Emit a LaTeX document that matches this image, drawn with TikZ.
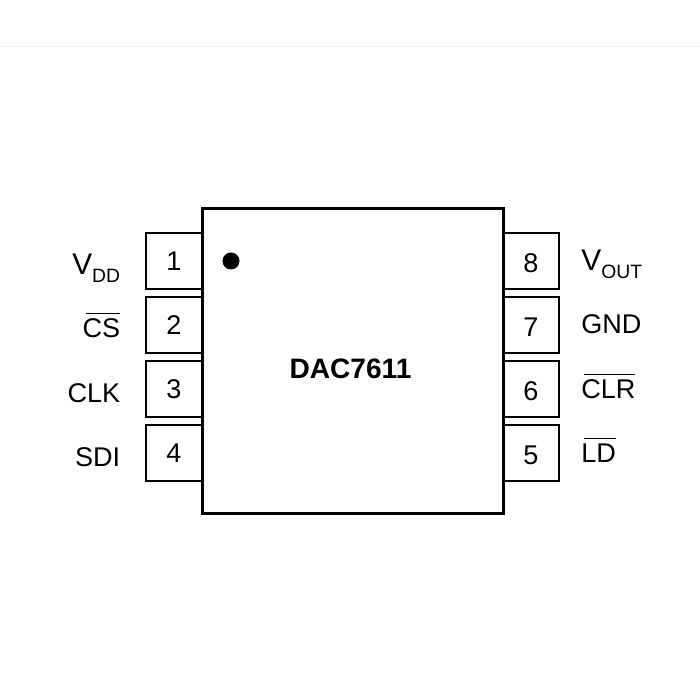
\documentclass[tikz,border=0pt]{standalone}
\usepackage{fontspec}
\setmainfont{Liberation Sans}
\usepackage{xcolor}
\usetikzlibrary{positioning}
\definecolor{rulegray}{HTML}{F0F0F0}
\newcommand{\pinvolt}[1]{{\fontsize{17pt}{18pt}\selectfont V}\raisebox{-0.16cm}{\fontsize{11pt}{12pt}\selectfont #1}}
\newcommand{\pinbar}[1]{\setbox0=\hbox{#1}\rlap{\hspace{1.7pt}\rule[13.6pt]{\dimexpr\wd0-1.7pt\relax}{0.8pt}}\box0}

\begin{document}
\begin{tikzpicture}[
    chip/.style={rectangle, draw, line width=0.06cm, minimum width=6.02cm, minimum height=6.1cm},
    pin/.style={rectangle, draw, line width=0.036cm, minimum width=1.12cm, minimum height=1.12cm, inner sep=0pt, font=\fontsize{15.4pt}{18pt}\selectfont},
    pinright/.style={pin, text height=0.46cm, text depth=0cm},
    leftlabel/.style={anchor=base east, inner sep=0pt, font=\fontsize{15.4pt}{18pt}\selectfont},
    rightlabel/.style={anchor=base west, inner sep=0pt, font=\fontsize{15.4pt}{18pt}\selectfont}
]
\useasboundingbox (0,0) rectangle (14,14);

% Rule along the top
\coordinate (ruleleft) at (0,13.07);
\coordinate (ruleright) at (14,13.07);
\draw[rulegray, line width=0.03cm] (ruleleft) -- (ruleright);

% Left pins
\node[pin] (pin1) at (3.48,8.78) {1};
\node[pin] (pin2) at (3.48,7.50) {2};
\node[pin] (pin3) at (3.48,6.22) {3};
\node[pin] (pin4) at (3.48,4.94) {4};

% Right pins
\node[pinright] (pin8) at (10.62,8.78) {8};
\node[pinright] (pin7) at (10.62,7.50) {7};
\node[pinright] (pin6) at (10.62,6.22) {6};
\node[pinright] (pin5) at (10.62,4.94) {5};

% Package
\node[chip] (package) at (7.05,6.77) {};
\node[fill=black, circle, inner sep=0pt, minimum size=0.34cm] (dot) at (4.62,8.78) {};
\node[font=\fontsize{16pt}{18pt}\selectfont\bfseries] (title) at (7.01,6.62) {DAC7611};

% Left labels
\node[leftlabel] (vdd) at (2.41,8.5) {\pinvolt{DD}};
\node[leftlabel] (cs) at (2.41,7.24) {\pinbar{CS}};
\node[leftlabel] (clk) at (2.41,5.94) {CLK};
\node[leftlabel] (sdi) at (2.41,4.66) {SDI};

% Right labels
\node[rightlabel] (vout) at (11.62,8.58) {\pinvolt{OUT}};
\node[rightlabel] (gnd) at (11.62,7.32) {GND};
\node[rightlabel] (clr) at (11.62,6.02) {\pinbar{CLR}};
\node[rightlabel] (ld) at (11.62,4.74) {\pinbar{LD}};

\end{tikzpicture}
\end{document}
